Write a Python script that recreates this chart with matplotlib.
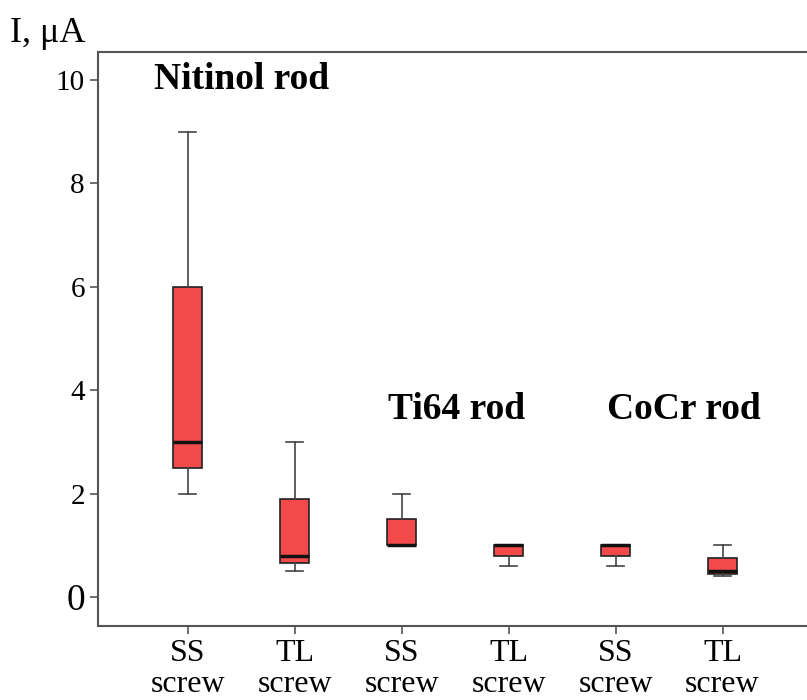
import matplotlib.pyplot as plt

plt.rcParams['font.family'] = ['Liberation Serif', 'DejaVu Serif']

# box statistics (uA)
labels = ["SS\nscrew", "TL\nscrew", "SS\nscrew", "TL\nscrew", "SS\nscrew", "TL\nscrew"]
whislo = [2.0, 0.5, 1.0, 0.6, 0.6, 0.4]
q1 = [2.5, 0.65, 1.0, 0.8, 0.8, 0.45]
med = [3.0, 0.8, 1.0, 1.0, 1.0, 0.5]
q3 = [6.0, 1.9, 1.5, 1.0, 1.0, 0.75]
whishi = [9.0, 3.0, 2.0, 1.0, 1.0, 1.0]
groups = ["Nitinol rod", "Ti64 rod", "CoCr rod"]

stats = []
for i in range(len(labels)):
    stats.append({'label': labels[i], 'whislo': whislo[i], 'q1': q1[i], 'med': med[i],
                  'q3': q3[i], 'whishi': whishi[i], 'fliers': []})

fig = plt.figure(figsize=(8.07, 7.0), dpi=100)
ax = fig.add_axes([0.1214, 0.1057, 0.8786, 0.82])

pos = list(range(len(labels)))
ax.bxp(stats, positions=pos, widths=0.27, showfliers=False, patch_artist=True,
       boxprops=dict(facecolor='#f24a4a', edgecolor='#222222', linewidth=1.2),
       medianprops=dict(color='#111111', linewidth=2.5),
       whiskerprops=dict(color='#444444', linewidth=1.2),
       capprops=dict(color='#444444', linewidth=1.2),
       capwidths=0.16)

ax.set_xlim(-0.84, 5.79)
ax.set_ylim(-0.56, 10.54)
ax.set_xticks(pos)
ax.set_xticklabels(labels, fontsize=23, linespacing=1.1)
ax.set_yticks([0, 2, 4, 6, 8, 10])
ax.set_yticklabels(["0", "2", "4", "6", "8", "10"], fontsize=21)
ax.get_yticklabels()[0].set_fontsize(27)

for s in ['left', 'bottom', 'top']:
    ax.spines[s].set_color('#555555')
    ax.spines[s].set_linewidth(1.5)
ax.spines['right'].set_visible(False)
ax.tick_params(colors='#555555', length=6, width=1.2, labelcolor='black')
ax.tick_params(axis='x', pad=3)

ax.text(0.5, 10.0, groups[0], fontsize=27, fontweight='bold', ha='center', va='center')
ax.text(2.51, 3.62, groups[1], fontsize=27, fontweight='bold', ha='center', va='center')
ax.text(4.64, 3.62, groups[2], fontsize=27, fontweight='bold', ha='center', va='center')

fig.text(0.012, 0.952, "I, \u03bcA", fontsize=26, ha='left', va='center')

fig.savefig("out.png", dpi=100)
